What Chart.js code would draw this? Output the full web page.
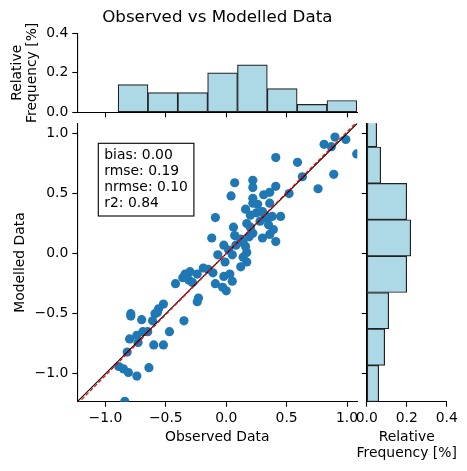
<!DOCTYPE html>
<html>
<head>
<meta charset="utf-8">
<script src="https://cdn.jsdelivr.net/npm/chart.js@4.4.1/dist/chart.umd.min.js"></script>
<style>
  html, body { margin: 0; padding: 0; background: #fff; }
  #wrap { position: relative; width: 467px; height: 471px; }
  #wrap canvas { position: absolute; left: 0; top: 0; }
</style>
</head>
<body>
<div id="wrap">
  <canvas id="topHist" width="467" height="471"></canvas>
  <canvas id="rightHist" width="467" height="471"></canvas>
  <canvas id="mainPlot" width="467" height="471"></canvas>
</div>
<script>
// values
const observed = [0.41, 0.59, 0.81, 0.90, 0.99, 0.87, 1.08, 0.63, 0.89, 0.76,
  0.52, 0.41, 0.36, 0.31, 0.36, 0.30, 0.45, 0.38, 0.07, 0.22,
  0.22, 0.04, 0.22, 0.22, 0.25, -0.09, 0.20, 0.34, 0.06, 0.17,
  0.39, -0.12, 0.22, 0.36, 0.07, -0.02, 0.14, 0.30, 0.41, 0.02,
  -0.07, 0.05, 0.17, 0.14, 0.35, 0.16, 0.12, 0.17, -0.15, -0.11,
  -0.02, 0.03, 0.05, -0.09, -0.03, 0.00, -0.30, -0.34, -0.36, -0.31,
  -0.28, -0.42, -0.24, -0.19, -0.23, -0.24, -0.52, -0.56, -0.59, -0.79,
  -0.79, -0.70, -0.57, -0.61, -0.35, -0.47, -0.69, -0.65, -0.74, -0.80,
  -0.73, -0.60, -0.52, -0.82, -0.89, -0.85, -0.81, -0.74, -0.64, -0.84,
  0.12, 0.26, 0.20, 0.08, 0.28, 0.19, 0.16, 0.32, -0.01, 0.95];
const modelled = [0.80, 0.76, 0.91, 0.97, 0.95, 0.89, 0.83, 0.64, 0.66, 0.54,
  0.50, 0.56, 0.51, 0.49, 0.42, 0.35, 0.31, 0.31, 0.59, 0.61,
  0.55, 0.48, 0.46, 0.42, 0.34, 0.30, 0.32, 0.29, 0.22, 0.25,
  0.20, 0.13, 0.17, 0.16, 0.15, 0.07, 0.09, 0.13, 0.10, 0.03,
  -0.01, -0.01, 0.01, -0.03, 0.24, 0.06, -0.11, -0.07, -0.13, -0.16,
  -0.19, -0.17, -0.23, -0.25, -0.28, -0.31, -0.15, -0.17, -0.20, -0.22,
  -0.24, -0.25, -0.17, -0.12, -0.37, -0.40, -0.42, -0.46, -0.50, -0.50,
  -0.52, -0.55, -0.49, -0.56, -0.56, -0.65, -0.65, -0.65, -0.68, -0.71,
  -0.74, -0.76, -0.76, -0.82, -0.94, -0.96, -0.99, -1.02, -0.95, -1.23,
  0.12, 0.41, 0.22, 0.07, 0.27, 0.14, 0.37, 0.32, -0.07, 1.19];

const axisMin = -1.233;
const axisMax = 1.085;
const axisTicks = [-1.0, -0.5, 0.0, 0.5, 1.0];
const freqTicks = [0.0, 0.2, 0.4];

const obsBinEdges = [-0.895, -0.648, -0.401, -0.154, 0.093, 0.340, 0.587, 0.834, 1.081];
const obsFreq = [0.14, 0.10, 0.10, 0.20, 0.24, 0.12, 0.04, 0.06];
const modBinEdges = [-1.233, -0.930, -0.627, -0.324, -0.021, 0.282, 0.585, 0.888, 1.191];
const modFreq = [0.06, 0.09, 0.11, 0.20, 0.22, 0.20, 0.07, 0.05];

const freqLabel = ['Relative', 'Frequency [%]'];
const statLabels = ['bias', 'rmse', 'nrmse', 'r2'];
const statValues = ['0.00', '0.19', '0.10', '0.84'];
const regSlope = 1.015;
const regIntercept = 0.0;

const FONT = '13.9px "DejaVu Sans", sans-serif';
Chart.defaults.font.family = '"DejaVu Sans", sans-serif';
Chart.defaults.font.size = 13.9;
Chart.defaults.font.lineHeight = 1.12;
Chart.defaults.color = '#000';
Chart.defaults.animation = false;
Chart.defaults.plugins.legend.display = false;
Chart.defaults.plugins.tooltip.enabled = false;

const fmt = v => (v < 0 ? '\u2212' : '') + Math.abs(v).toFixed(1);
const fixTicks = list => scale => { scale.ticks = list.map(v => ({ value: v })); };
const mids = edges => edges.slice(1).map((e, i) => (e + edges[i]) / 2);

// matplotlib-like axis: spine + outward ticks, no grid
function axis(opts) {
  return Object.assign({
    type: 'linear',
    offset: false,
    border: { display: true, color: '#000', width: 1.1 },
    grid: { offset: false, drawOnChartArea: false, drawTicks: true, tickLength: 5, tickColor: '#000', tickWidth: 1.1 },
    ticks: { padding: 4, callback: fmt }
  }, opts);
}

const histBar = {
  backgroundColor: '#add8e6',
  borderColor: '#222',
  borderWidth: 1.2,
  borderSkipped: false,
  barPercentage: 1.0,
  categoryPercentage: 1.0
};

// top histogram (observed)
new Chart(document.getElementById('topHist'), {
  type: 'bar',
  data: {
    datasets: [Object.assign({
      data: mids(obsBinEdges).map((c, i) => ({ x: c, y: obsFreq[i] }))
    }, histBar)]
  },
  options: {
    responsive: false,
    devicePixelRatio: 1,
    layout: { padding: { left: 0, right: 109.7, top: 0, bottom: 350.7 } },
    plugins: {
      title: {
        display: true, fullSize: false,
        text: 'Observed vs Modelled Data',
        font: { size: 16.7, lineHeight: 1.2, weight: 'normal' },
        padding: { top: 8, bottom: 5.3 }
      }
    },
    scales: {
      x: axis({
        min: axisMin, max: axisMax,
        afterBuildTicks: fixTicks(axisTicks),
        ticks: { display: false },
        afterFit: s => { s.height = 8; }
      }),
      y: axis({
        min: 0, max: 0.4,
        afterBuildTicks: fixTicks(freqTicks),
        title: { display: true, text: freqLabel, padding: { top: 9.5, bottom: 0 } },
        afterFit: s => { s.width = 77.3; }
      })
    }
  }
});

// two-line x label under the right histogram (the axis title would be squeezed to the axis width)
const freqTitle = {
  id: 'freqTitle',
  afterDraw(chart) {
    const s = chart.scales.x;
    const ctx = chart.ctx;
    ctx.save();
    ctx.font = FONT;
    ctx.fillStyle = '#000';
    ctx.textAlign = 'center';
    ctx.textBaseline = 'middle';
    freqLabel.forEach((t, i) => ctx.fillText(t, (s.left + s.right) / 2, s.top + 36 + i * 15.6));
    ctx.restore();
  }
};

// right histogram (modelled)
new Chart(document.getElementById('rightHist'), {
  type: 'bar',
  data: {
    datasets: [Object.assign({
      data: mids(modBinEdges).map((c, i) => ({ x: modFreq[i], y: c }))
    }, histBar)]
  },
  options: {
    indexAxis: 'y',
    responsive: false,
    devicePixelRatio: 1,
    layout: { padding: { left: 356.7, right: 20.3, top: 123.3, bottom: 9.3 } },
    scales: {
      x: axis({
        min: 0, max: 0.4,
        afterBuildTicks: fixTicks(freqTicks),
        afterFit: s => { s.height = 60; }
      }),
      y: axis({
        min: axisMin, max: axisMax,
        afterBuildTicks: fixTicks(axisTicks),
        ticks: { display: false },
        afterFit: s => { s.width = 10; }
      })
    }
  },
  plugins: [freqTitle]
});

// stats text box
const statsBox = {
  id: 'statsBox',
  afterDatasetsDraw(chart) {
    const { ctx, chartArea: ca } = chart;
    const lines = statLabels.map((l, i) => l + ': ' + statValues[i]);
    const lh = 16.1, pad = 6;
    ctx.save();
    ctx.font = FONT;
    const w = Math.max(...lines.map(t => ctx.measureText(t).width)) + 2 * pad;
    const h = lines.length * lh + 8.3;
    const x0 = ca.left + 21, y0 = ca.top + 20;
    ctx.fillStyle = '#fff';
    ctx.fillRect(x0, y0, w, h);
    ctx.strokeStyle = '#000';
    ctx.lineWidth = 1.1;
    ctx.strokeRect(x0, y0, w, h);
    ctx.fillStyle = '#000';
    ctx.textBaseline = 'middle';
    lines.forEach((t, i) => ctx.fillText(t, x0 + pad, y0 + 4.15 + lh * (i + 0.5)));
    ctx.restore();
  }
};

// main scatter
new Chart(document.getElementById('mainPlot'), {
  type: 'scatter',
  data: {
    datasets: [
      {
        type: 'line',
        data: [axisMin, axisMax].map(x => ({ x: x, y: regIntercept + regSlope * x })),
        borderColor: 'red', borderWidth: 1.2, borderDash: [4, 2],
        pointRadius: 0, fill: false, order: 0
      },
      {
        type: 'line',
        data: [axisMin, axisMax].map(x => ({ x: x, y: x })),
        borderColor: '#000', borderWidth: 1.1,
        pointRadius: 0, fill: false, order: 1
      },
      {
        data: observed.map((x, i) => ({ x: x, y: modelled[i] })),
        backgroundColor: '#1f77b4',
        borderWidth: 0,
        pointRadius: 4.6,
        order: 2
      }
    ]
  },
  options: {
    responsive: false,
    devicePixelRatio: 1,
    layout: { padding: { left: 0, right: 109.7, top: 123.3, bottom: 17.3 } },
    scales: {
      x: axis({
        min: axisMin, max: axisMax,
        afterBuildTicks: fixTicks(axisTicks),
        title: { display: true, text: 'Observed Data', padding: { top: 0, bottom: 8.2 } },
        afterFit: s => { s.height = 52; }
      }),
      y: axis({
        min: axisMin, max: axisMax,
        afterBuildTicks: fixTicks(axisTicks),
        title: { display: true, text: 'Modelled Data', padding: { top: 12.2, bottom: 0 } },
        afterFit: s => { s.width = 77.3; }
      })
    }
  },
  plugins: [statsBox]
});
</script>
</body>
</html>
